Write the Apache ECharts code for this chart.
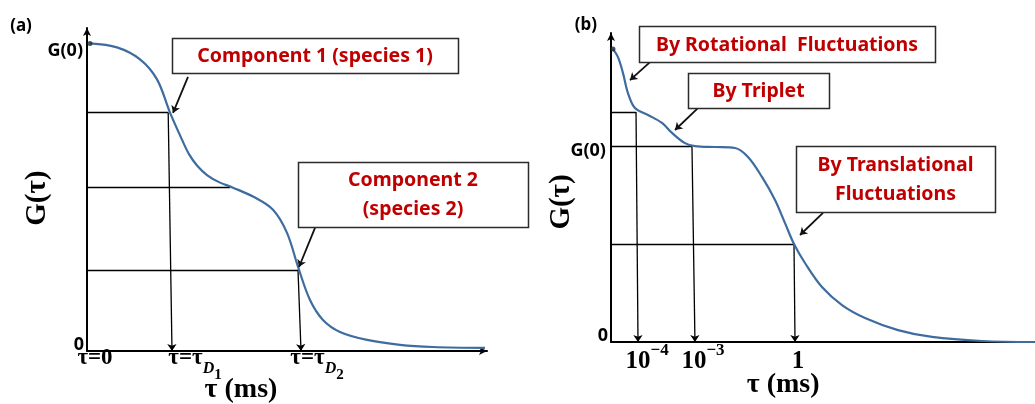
<!DOCTYPE html>
<html><head><meta charset="utf-8">
<script src="https://cdn.jsdelivr.net/npm/echarts@6/dist/echarts.min.js"></script>
<style>html,body{margin:0;padding:0;background:#fff}#c{width:1035px;height:404px}</style>
</head><body><div id="c"></div>
<script>
// ---------- Panel (a): two diffusing species (τ in arbitrary linear units, G normalised to G(0)=1)
const curveA = [[0.075,1.0],[0.75,0.987],[1.325,0.948],[1.75,0.883],[2.075,0.775],[2.375,0.687],[2.55,0.64],[2.75,0.603],[3.0,0.572],[3.3,0.549],[3.65,0.531],[4.15,0.502],[4.65,0.459],[5.0,0.384],[5.275,0.274],[5.575,0.166],[5.9,0.101],[6.325,0.062],[7.0,0.036],[7.825,0.020],[8.65,0.013],[9.95,0.010]];
const levelsA = [[0.775,2.03],[0.531,3.58],[0.264,5.275]];           // [G level, τ where the guide ends]
const dropsA  = [[2.03,0.775,2.125],[5.275,0.264,5.35]];              // [τ top, G top, τ at axis]
const tickTextA = ['τ=0','τ=τ','τ=τ'];
const tickSubA  = ['', 'D1', 'D2'];
const tickPosA  = [0.2, 2.7, 5.75];
const calloutsA = [['Component 1 (species 1)'],['Component 2','(species 2)']];
const calloutArrowsA = [[[2.525,0.891],[2.15,0.774]],[[5.7,0.40],[5.3,0.273]]];

// ---------- Panel (b): rotational + triplet + translational (schematic log τ axis)
const curveB = [[0.047,1.498],[0.165,1.457],[0.283,1.375],[0.40,1.273],[0.566,1.196],[0.873,1.161],[1.203,1.120],[1.439,1.069],[1.745,1.017],[1.981,1.002],[2.453,0.997],[2.925,0.992],[3.231,0.946],[3.561,0.844],[3.868,0.726],[4.104,0.608],[4.316,0.501],[4.575,0.404],[4.976,0.281],[5.448,0.189],[5.991,0.123],[6.769,0.061],[7.571,0.026],[8.75,0.005],[10,0.0]];
const levelsB = [[1.176,0.59],[1.0,1.91],[0.501,4.316]];
const dropsB  = [[0.59,1.176,0.637],[1.91,1.0,1.98],[4.316,0.501,4.34]];
const tickBaseB = ['10','10','1'];
const tickSupB  = ['−4','−3',''];
const tickPosB  = [0.85, 2.17, 4.41];
const calloutsB = [['By Rotational  Fluctuations'],['By Triplet'],['By Translational','Fluctuations']];
const calloutArrowsB = [[[0.92,1.431],[0.448,1.339]],[[2.05,1.196],[1.51,1.084]],[[5.0,0.66],[4.458,0.547]]];

const BLUE = '#3f6c9e', RED = '#c00000';
const SANS = '"Noto Sans"', SERIF = '"Liberation Serif"';

function axisX(gi, arrow){
  return {type:'value', gridIndex:gi, min:0, max:10,
    axisLine:{show:true, onZero:false, symbol: arrow?['none','arrow']:['none','none'], symbolSize:[6,8], lineStyle:{color:'#000', width:2}},
    axisTick:{show:false}, axisLabel:{show:false}, splitLine:{show:false}};
}
function axisY(gi, max){
  return {type:'value', gridIndex:gi, min:0, max:max,
    axisLine:{show:true, onZero:false, symbol:['none','arrow'], symbolSize:[6,8], lineStyle:{color:'#000', width:2}},
    axisTick:{show:false}, axisLabel:{show:false}, splitLine:{show:false}};
}
function guideLines(levels, drops, gi){
  const h = levels.map(l => ({coords:[[0,l[0]],[l[1],l[0]]]}));
  const v = drops.map(d => ({coords:[[d[0],d[1]],[d[2],0]]}));
  return [
    {type:'lines', coordinateSystem:'cartesian2d', xAxisIndex:gi, yAxisIndex:gi, silent:true, z:3,
     lineStyle:{color:'#000', width:1.3, opacity:1}, symbol:['none','none'], data:h},
    {type:'lines', coordinateSystem:'cartesian2d', xAxisIndex:gi, yAxisIndex:gi, silent:true, z:3,
     lineStyle:{color:'#000', width:1.3, opacity:1}, symbol:['none','arrow'], symbolSize:7, data:v}
  ];
}
function arrows(list, gi){
  return {type:'lines', coordinateSystem:'cartesian2d', xAxisIndex:gi, yAxisIndex:gi, silent:true, z:6,
    lineStyle:{color:'#111', width:1.8, opacity:1}, symbol:['none','arrow'], symbolSize:7,
    data:list.map(c => ({coords:c}))};
}

// text / callout layer drawn by a custom series placed through the axes
function textLayer(gi, items){
  return {type:'custom', coordinateSystem:'cartesian2d', xAxisIndex:gi, yAxisIndex:gi, silent:true, clip:false, z:10,
    data: items.map((it,i) => [it.at[0], it.at[1], i]),
    renderItem: function(params, api){
      const it = items[api.value(2)];
      const p = api.coord([api.value(0), api.value(1)]);
      if (it.box){
        const w = it.box[0], h = it.box[1];
        return {type:'group', children:[
          {type:'rect', shape:{x:Math.round(p[0]-w/2)+0.5, y:Math.round(p[1]-h/2)+0.5, width:w, height:h},
           style:{fill:'#fff', stroke:'#2b2b2b', lineWidth:1.5}},
          {type:'text', x:p[0], y:p[1]+1, style:{text:it.lines.join('\n'), fill:RED,
            font:'bold 19.5px '+SANS, lineHeight:29, align:'center', verticalAlign:'middle'}}
        ]};
      }
      const st = Object.assign({align:'center', verticalAlign:'middle', fill:'#000'}, it.style);
      return {type:'text', x:p[0], y:p[1], rotation:it.rot||0, style:st};
    }};
}
function callout(at, lines, w, h){ return {at:at, lines:lines, box:[w,h]}; }

const serifRich = {
  m:{fontFamily:'Liberation Serif', fontWeight:'bold', fontSize:23, fill:'#000', verticalAlign:'top', lineHeight:36},
  d:{fontFamily:'Liberation Serif', fontWeight:'bold', fontStyle:'italic', fontSize:16, fill:'#000', verticalAlign:'middle', lineHeight:36, padding:[9,0,0,0]},
  n:{fontFamily:'Liberation Serif', fontWeight:'bold', fontSize:15, fill:'#000', verticalAlign:'bottom', lineHeight:36},
  b:{fontFamily:'Liberation Serif', fontWeight:'bold', fontSize:25, fill:'#000', verticalAlign:'bottom', lineHeight:32},
  s:{fontFamily:'Liberation Serif', fontWeight:'bold', fontSize:17, fill:'#000', verticalAlign:'top', lineHeight:32}
};

const labelsA = [
  {at:[-1.65,1.057], style:{text:'(a)', font:'bold 17px '+SANS}},
  {at:[-0.1,0.975], style:{text:'G(0)', align:'right', font:'bold 18px '+SANS}},
  {at:[-0.2,0.02], style:{text:'0', font:'bold 18px '+SANS}},
  {at:[-1.225,0.497], rot:Math.PI/2, style:{text:'G(τ)', font:'bold 29px '+SERIF}},
  {at:[3.85,-0.127], style:{text:'τ (ms)', font:'bold 28px '+SERIF}},
  callout([5.7,0.961], calloutsA[0], 286, 35),
  callout([8.15,0.509], calloutsA[1], 230, 65)
].concat(tickTextA.map((t,i) => ({at:[tickPosA[i],-0.045], style:{rich:serifRich,
  text: '{m|'+t+'}' + (tickSubA[i] ? '{d|'+tickSubA[i][0]+'}{n|'+tickSubA[i][1]+'}' : '')}})));

const labelsB = [
  {at:[-0.59,1.62], style:{text:'(b)', font:'bold 17px '+SANS}},
  {at:[-0.12,0.975], style:{text:'G(0)', align:'right', font:'bold 18px '+SANS}},
  {at:[-0.19,0.03], style:{text:'0', font:'bold 18px '+SANS}},
  {at:[-1.156,0.716], rot:Math.PI/2, style:{text:'G(τ)', font:'bold 29px '+SERIF}},
  {at:[4.06,-0.22], style:{text:'τ (ms)', font:'bold 28px '+SERIF}},
  callout([4.15,1.523], calloutsB[0], 296, 36),
  callout([3.48,1.286], calloutsB[1], 141, 35),
  callout([6.71,0.833], calloutsB[2], 199, 66)
].concat(tickBaseB.map((t,i) => ({at:[tickPosB[i],-0.08], style:{rich:serifRich,
  text: '{b|'+t+'}' + (tickSupB[i] ? '{s|'+tickSupB[i]+'}' : '')}})));

const chart = echarts.init(document.getElementById('c'), null, {renderer:'canvas'});
chart.setOption({
  animation:false,
  backgroundColor:'#fff',
  grid:[{left:87, top:28, width:400, height:323}, {left:611, top:33, width:424, height:309}],
  xAxis:[axisX(0,true), axisX(1,false)],
  yAxis:[axisY(0,1.05), axisY(1,1.58)],
  series:[
    {type:'line', xAxisIndex:0, yAxisIndex:0, data:curveA, smooth:0.35, showSymbol:false, silent:true, z:4,
     lineStyle:{color:BLUE, width:2.2}},
    {type:'line', xAxisIndex:1, yAxisIndex:1, data:curveB, smooth:0.35, showSymbol:false, silent:true, z:4,
     lineStyle:{color:BLUE, width:2.2}},
    ...guideLines(levelsA, dropsA, 0),
    ...guideLines(levelsB, dropsB, 1),
    arrows(calloutArrowsA, 0),
    arrows(calloutArrowsB, 1),
    {type:'scatter', xAxisIndex:0, yAxisIndex:0, data:[curveA[0]], symbolSize:5, itemStyle:{color:'#1d2a3a'}, silent:true, z:5},
    {type:'scatter', xAxisIndex:1, yAxisIndex:1, data:[curveB[0]], symbolSize:5, itemStyle:{color:'#1d2a3a'}, silent:true, z:5},
    textLayer(0, labelsA),
    textLayer(1, labelsB)
  ]
});
</script></body></html>
